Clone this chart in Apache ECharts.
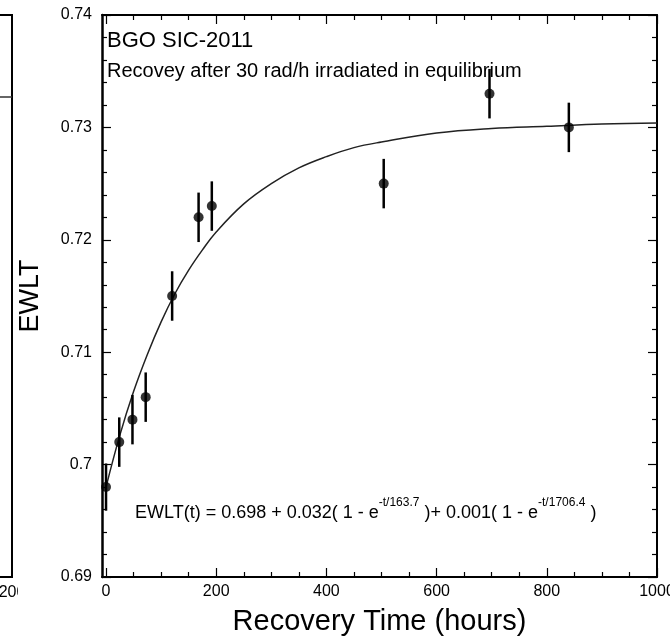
<!DOCTYPE html>
<html><head><meta charset="utf-8">
<script src="https://cdn.jsdelivr.net/npm/echarts@6/dist/echarts.min.js"></script>
<style>html,body{margin:0;padding:0;background:#fff}#c{width:670px;height:639px}</style>
</head><body><div id="c"></div>
<script>
// ---- data ----
const times = [0, 24, 48, 72, 120, 168, 192, 504, 696, 840];
const ewlt = [0.698, 0.702, 0.704, 0.706, 0.715, 0.722, 0.723, 0.725, 0.733, 0.730];
const errs = [0.0021, 0.0022, 0.0022, 0.0022, 0.0022, 0.0022, 0.0022, 0.0022, 0.0022, 0.0022];
const fitT = [0, 25, 50, 75, 100, 125, 150, 175, 200, 250, 300, 350, 400, 450, 500, 600, 700, 800, 900, 1000];
const fitV = [0.6980, 0.7026, 0.7065, 0.7098, 0.7127, 0.7152, 0.7173, 0.7191, 0.7207, 0.7232, 0.7250, 0.7264, 0.7274, 0.7282, 0.7287, 0.7295, 0.7299, 0.7301, 0.7303, 0.7304];
const xMajorTicks = [0, 200, 400, 600, 800, 1000];
const xMinorTicks = [50, 100, 150, 250, 300, 350, 450, 500, 550, 650, 700, 750, 850, 900, 950];
const leftLineT = [150, 200];
const leftLineV = [0.863, 0.863];

const FONT = '"Liberation Sans", Arial, sans-serif';
const chart = echarts.init(document.getElementById('c'), null, {renderer: 'canvas'});

const xBase = {
  type: 'value', min: -7.3, max: 1000, gridIndex: 0,
  splitLine: {show: false},
  axisLine: {show: false, onZero: false},
  axisLabel: {show: false},
  axisTick: {show: false}
};
function xAx(extra) { return Object.assign({}, JSON.parse(JSON.stringify(xBase)), extra); }

const option = {
  animation: false,
  backgroundColor: '#fff',
  grid: [
    {left: 102, right: 13, top: 15, bottom: 62, containLabel: false, outerBoundsMode: 'none'},
    {left: -200, right: 658, top: 15, bottom: 62, containLabel: false, outerBoundsMode: 'none',
      show: true, borderColor: '#000', borderWidth: 2, backgroundColor: 'transparent'}
  ],
  xAxis: [
    xAx({position: 'bottom',
      axisLine: {show: true, onZero: false, lineStyle: {color: '#000', width: 2}},
      axisTick: {show: true, inside: true, length: 9, customValues: xMajorTicks, lineStyle: {color: '#000', width: 1.2}},
      axisLabel: {show: true, customValues: xMajorTicks, margin: 7, color: '#000', fontSize: 16, fontFamily: FONT,
        formatter: v => String(v)},
      name: 'Recovery Time (hours)', nameLocation: 'middle', nameGap: 30,
      nameTextStyle: {color: '#000', fontSize: 29, fontFamily: FONT}
    }),
    xAx({position: 'bottom',
      axisTick: {show: true, inside: true, length: 5, customValues: xMinorTicks, lineStyle: {color: '#000', width: 1.2}}
    }),
    xAx({position: 'top',
      axisLine: {show: true, onZero: false, lineStyle: {color: '#000', width: 2}},
      axisTick: {show: true, inside: true, length: 9, customValues: xMajorTicks, lineStyle: {color: '#000', width: 1.2}}
    }),
    xAx({position: 'top',
      axisTick: {show: true, inside: true, length: 5, customValues: xMinorTicks, lineStyle: {color: '#000', width: 1.2}}
    }),
    {type: 'value', gridIndex: 1, min: 0, max: 200, interval: 200, position: 'bottom',
      splitLine: {show: false}, axisLine: {show: false, onZero: false}, axisTick: {show: false},
      axisLabel: {show: true, margin: 8, color: '#000', fontSize: 16, fontFamily: FONT,
        formatter: v => v === 200 ? '200' : ''}}
  ],
  yAxis: [
    {type: 'value', gridIndex: 0, min: 0.69, max: 0.74, interval: 0.01, position: 'left',
      splitLine: {show: false},
      axisLine: {show: true, onZero: false, lineStyle: {color: '#000', width: 2.5}},
      axisTick: {show: true, inside: true, length: 9, lineStyle: {color: '#000', width: 1.2}},
      minorTick: {show: true, splitNumber: 5, length: 5, lineStyle: {color: '#000', width: 1.2}},
      axisLabel: {margin: 10, color: '#000', fontSize: 16, fontFamily: FONT, formatter: v => String(+v.toFixed(2))},
      name: 'EWLT', nameLocation: 'middle', nameGap: 58, nameRotate: 90,
      nameTextStyle: {color: '#000', fontSize: 27, fontFamily: FONT}
    },
    {type: 'value', gridIndex: 0, min: 0.69, max: 0.74, interval: 0.01, position: 'right',
      splitLine: {show: false},
      axisLine: {show: true, onZero: false, lineStyle: {color: '#000', width: 2}},
      axisTick: {show: true, inside: true, length: 9, lineStyle: {color: '#000', width: 1.2}},
      minorTick: {show: true, splitNumber: 5, length: 5, lineStyle: {color: '#000', width: 1.2}},
      axisLabel: {show: false}
    },
    {type: 'value', gridIndex: 1, min: 0, max: 5.916, interval: 1, inverse: true, position: 'right',
      splitLine: {show: false},
      axisLine: {show: false},
      axisTick: {show: true, inside: true, length: 9, lineStyle: {color: '#000', width: 1.2}},
      minorTick: {show: true, splitNumber: 5, length: 5, lineStyle: {color: '#000', width: 1.2}},
      axisLabel: {show: false}
    }
  ],
  graphic: [
    {type: 'text', left: 107, top: 30, z: 10, style: {text: 'BGO SIC-2011', fill: '#000', font: '22px ' + FONT}},
    {type: 'text', left: 107, top: 61, z: 10, style: {text: 'Recovey after 30 rad/h irradiated in equilibrium', fill: '#000', font: '20px ' + FONT}},
    {type: 'text', left: 135, top: 494, z: 10, style: {
      text: '{m|EWLT(t) = 0.698 + 0.032( 1 - e}{s|-t/163.7}{m| )+ 0.001( 1 - e}{s|-t/1706.4}{m| )}',
      rich: {
        m: {fontSize: 18, fontFamily: FONT, fill: '#000', color: '#000', lineHeight: 28, verticalAlign: 'bottom'},
        s: {fontSize: 12, fontFamily: FONT, fill: '#000', color: '#000', lineHeight: 28, verticalAlign: 'top', padding: [3, 0, 0, 0]}
      }
    }},
    {type: 'rect', left: 18, top: 583, z: 20, shape: {width: 24, height: 22}, style: {fill: '#fff'}}
  ],
  series: [
    {type: 'line', xAxisIndex: 0, yAxisIndex: 0, data: fitT.map((t, i) => [t, fitV[i]]),
      smooth: 0.4, showSymbol: false, symbol: 'none', lineStyle: {color: '#222', width: 1.5}, z: 2},
    {type: 'custom', xAxisIndex: 0, yAxisIndex: 0, z: 3,
      data: times.map((t, i) => [t, ewlt[i] - errs[i], ewlt[i] + errs[i]]),
      renderItem: function (params, api) {
        const p1 = api.coord([api.value(0), api.value(1)]);
        const p2 = api.coord([api.value(0), api.value(2)]);
        return {type: 'line', shape: {x1: p1[0], y1: p1[1], x2: p2[0], y2: p2[1]},
          style: {stroke: '#000', lineWidth: 2.5}};
      }},
    {type: 'scatter', xAxisIndex: 0, yAxisIndex: 0, data: times.map((t, i) => [t, ewlt[i]]),
      symbol: 'circle', symbolSize: 10, itemStyle: {color: '#000'}, z: 4},
    {type: 'line', xAxisIndex: 4, yAxisIndex: 2, data: leftLineT.map((t, i) => [t, leftLineV[i]]),
      showSymbol: false, symbol: 'none', lineStyle: {color: '#333', width: 1.3}}
  ]
};
chart.setOption(option);
</script>
</body></html>
